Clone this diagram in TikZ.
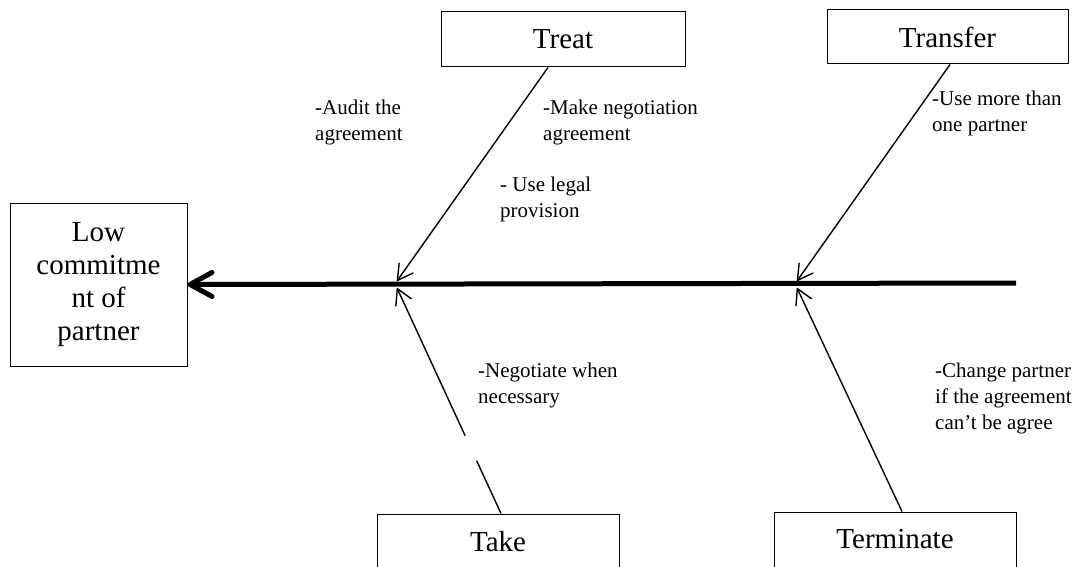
\documentclass[tikz,border=0pt]{standalone}
\usepackage{fontspec}
\setmainfont{Liberation Serif}
\usetikzlibrary{arrows.meta,calc}
\begin{document}
\begin{tikzpicture}[x=1pt,y=-1pt,
  box/.style={draw=black,line width=1pt,inner sep=0pt,align=center,
    font=\fontsize{29}{33}\selectfont},
  note/.style={inner sep=0pt,anchor=north west,align=left,
    font=\fontsize{21}{26}\selectfont},
  spine/.style={line width=5pt,-{Straight Barb[length=22pt,width=24pt,round]}},
  bone/.style={line width=1.4pt,-{Straight Barb[length=15pt,width=17pt,round]}}]
\useasboundingbox (0,0) rectangle (1076,567);
\clip (0,0) rectangle (1076,567);

% effect box
\node[box,minimum width=177pt,minimum height=163pt] (low) at (98.5,284.5)
  {Low\\commitme\\nt of\\partner};

% strategy boxes
\node[box,minimum width=244pt,minimum height=55pt] (treat) at (563,39.5) {Treat};
\node[box,minimum width=241pt,minimum height=54pt] (transfer) at (947.5,37) {Transfer};
\node[box,minimum width=242pt,minimum height=55pt] (take) at (498,541.5) {Take};
\node[box,minimum width=242pt,minimum height=55pt] (terminate) at (895,539.5) {Terminate};

% spine
\coordinate (tail) at (1016,283);
\coordinate (j1) at (397,283);
\coordinate (j2) at (797,283);
\draw[spine] (tail) -- (low.east);

% branch ends on the spine
\coordinate (ja1) at ([yshift=2pt]j1);
\coordinate (jb1) at ([yshift=-5pt]j1);
\coordinate (ja2) at ([yshift=2pt]j2);
\coordinate (jb2) at ([yshift=-5pt]j2);

% branch start points on the boxes
\coordinate (tr) at ([xshift=-15pt]treat.south);
\coordinate (tf) at ([xshift=2.5pt]transfer.south);
\coordinate (tk) at ([xshift=3pt]take.north);
\coordinate (tm) at ([xshift=7pt]terminate.north);

\draw[bone] (tr) -- (ja1);
\draw[bone] (tf) -- (ja2);
\draw[line width=1.4pt] (tk) -- ($(tk)!0.2345!(jb1)$);
\draw[bone] ($(tk)!0.345!(jb1)$) -- (jb1);
\draw[bone] (tm) -- (jb2);

% notes
\node[note] (n1) at (315,100) {-Audit the\\agreement};
\node[note] (n2) at (543,100) {-Make negotiation\\agreement};
\node[note] (n3) at (500,177) {- Use legal\\provision};
\node[note] (n4) at (932,91) {-Use more than\\one partner};
\node[note] (n5) at (478,363) {-Negotiate when\\necessary};
\node[note] (n6) at (935,363) {-Change partner\\if the agreement\\can’t be agree};
\end{tikzpicture}
\end{document}
